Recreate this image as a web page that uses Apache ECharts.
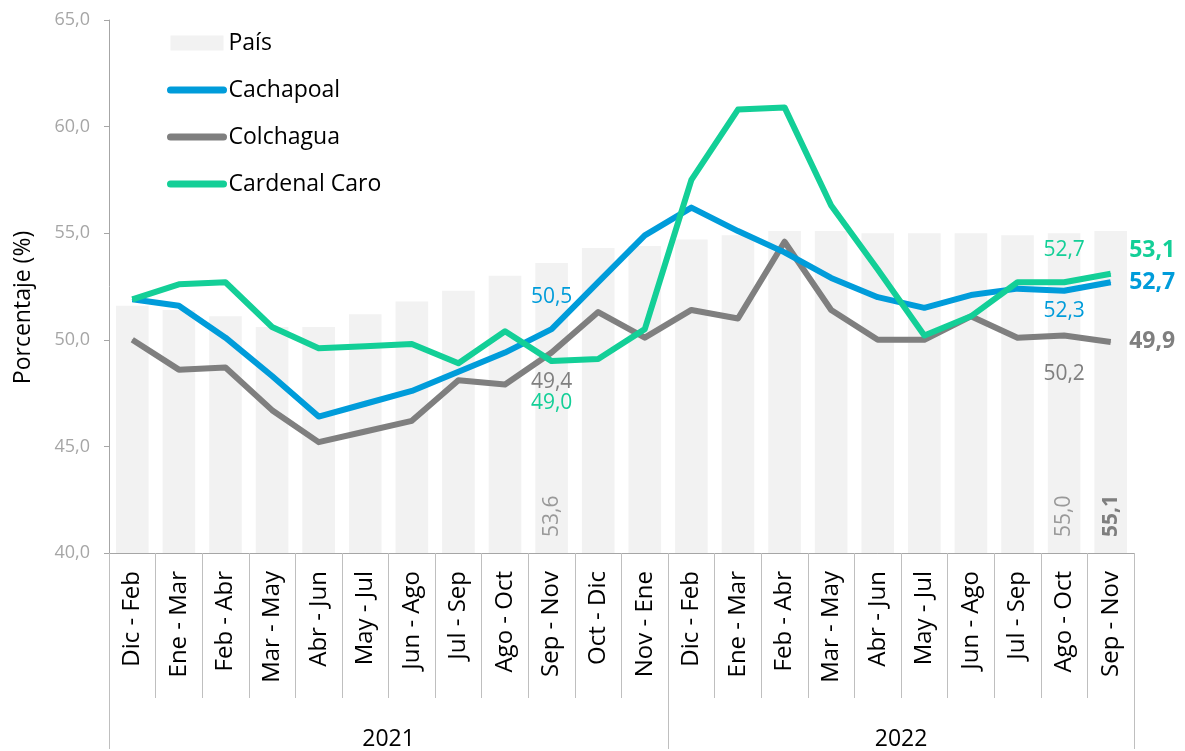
<!DOCTYPE html>
<html>
<head>
<meta charset="utf-8">
<script src="https://cdn.jsdelivr.net/npm/echarts@6/dist/echarts.min.js"></script>
<style>
  html, body { margin: 0; padding: 0; background: #fff; }
  #main { width: 1185px; height: 751px; }
</style>
</head>
<body>
<div id="main"></div>
<script>
var categories = ['Dic - Feb', 'Ene - Mar', 'Feb - Abr', 'Mar - May', 'Abr - Jun', 'May - Jul', 'Jun - Ago', 'Jul - Sep', 'Ago - Oct', 'Sep - Nov', 'Oct - Dic', 'Nov - Ene',
                  'Dic - Feb', 'Ene - Mar', 'Feb - Abr', 'Mar - May', 'Abr - Jun', 'May - Jul', 'Jun - Ago', 'Jul - Sep', 'Ago - Oct', 'Sep - Nov'];
var years = ['2021', '2022'];
var yearSpan = [12, 10];

var pais = [51.6, 51.4, 51.1, 50.6, 50.6, 51.2, 51.8, 52.3, 53.0, 53.6, 54.3, 54.4, 54.7, 54.9, 55.1, 55.1, 55.0, 55.0, 55.0, 54.9, 55.0, 55.1];
var cachapoal = [51.9, 51.6, 50.1, 48.3, 46.4, 47.0, 47.6, 48.5, 49.4, 50.5, 52.7, 54.9, 56.2, 55.1, 54.1, 52.9, 52.0, 51.5, 52.1, 52.4, 52.3, 52.7];
var colchagua = [50.0, 48.6, 48.7, 46.7, 45.2, 45.7, 46.2, 48.1, 47.9, 49.4, 51.3, 50.1, 51.4, 51.0, 54.6, 51.4, 50.0, 50.0, 51.1, 50.1, 50.2, 49.9];
var cardenalCaro = [51.9, 52.6, 52.7, 50.6, 49.6, 49.7, 49.8, 48.9, 50.4, 49.0, 49.1, 50.5, 57.5, 60.8, 60.9, 56.3, 53.3, 50.2, 51.1, 52.7, 52.7, 53.1];

var FONT = 'Open Sans';
var BLUE = '#009CDA', GRAY = '#7F7F7F', GREEN = '#13CF97';

function fmt(v) { return Number(v).toFixed(1).replace('.', ','); }

// put labels only on selected points
function withLabels(values, labels) {
  return values.map(function (v, i) {
    var l = labels[i];
    return l ? { value: v, label: Object.assign({ show: true }, l) } : v;
  });
}

var bold = { fontWeight: 'bold', fontSize: 23 };

// year group boundaries and centres
var yearTicks = [0], yearCenters = [];
yearSpan.forEach(function (n, i) {
  var start = yearTicks[yearTicks.length - 1];
  yearCenters.push(start + n / 2);
  yearTicks.push(start + n);
});

var myChart = echarts.init(document.getElementById('main'));

var lineBase = {
  type: 'line',
  symbol: 'circle',
  symbolSize: 1,
  z: 3,
  label: { show: false, fontFamily: FONT, fontSize: 21, formatter: function (p) { return fmt(p.value); } }
};

function legendLine(name) {
  return { name: name, itemStyle: { opacity: 0 }, lineStyle: { width: 7, cap: 'round' } };
}

var option = {
  animation: false,
  textStyle: { fontFamily: FONT },
  grid: { left: 109, right: 51, top: 20, bottom: 196 },
  legend: {
    orient: 'vertical',
    left: 162,
    top: 26,
    itemWidth: 53,
    itemHeight: 15,
    itemGap: 23,
    textStyle: { fontFamily: FONT, fontSize: 23, color: '#000', lineHeight: 24 },
    data: [
      { name: 'País', icon: 'rect' },
      legendLine('Cachapoal'), legendLine('Colchagua'), legendLine('Cardenal Caro')
    ]
  },
  xAxis: [
    {
      type: 'category',
      data: categories,
      axisLine: { lineStyle: { color: '#A6A6A6', width: 1 } },
      axisTick: { show: true, interval: 0, length: 145, lineStyle: { color: '#BFBFBF' } },
      axisLabel: { interval: 0, rotate: 90, margin: 18, color: '#000', fontFamily: FONT, fontSize: 24 }
    },
    {
      type: 'value',
      min: 0,
      max: yearTicks[yearTicks.length - 1],
      position: 'bottom',
      offset: 145,
      axisLine: { show: false },
      splitLine: { show: false },
      axisTick: { show: true, length: 51, customValues: yearTicks, lineStyle: { color: '#BFBFBF' } },
      axisLabel: {
        customValues: yearCenters,
        margin: 30,
        color: '#000',
        fontFamily: FONT,
        fontSize: 23,
        formatter: function (v) { return years[yearCenters.indexOf(v)] || ''; }
      }
    }
  ],
  yAxis: {
    type: 'value',
    min: 40,
    max: 65,
    interval: 5,
    name: 'Porcentaje (%)',
    nameLocation: 'middle',
    nameRotate: 90,
    nameGap: 74,
    nameTextStyle: { color: '#000', fontFamily: FONT, fontSize: 23, padding: [0, 42, 0, 0] },
    axisLine: { show: true, lineStyle: { color: '#A6A6A6' } },
    axisTick: { show: true, length: 5, lineStyle: { color: '#A6A6A6' } },
    splitLine: { show: false },
    axisLabel: { color: '#A6A6A6', fontFamily: FONT, fontSize: 18, margin: 19, formatter: fmt }
  },
  series: [
    {
      name: 'País',
      type: 'bar',
      barCategoryGap: '30%',
      itemStyle: { color: '#F2F2F2' },
      z: 1,
      label: {
        show: false, position: 'insideBottom', rotate: 90, align: 'left', verticalAlign: 'middle',
        distance: 16, fontFamily: FONT, fontSize: 21, color: '#999999',
        formatter: function (p) { return fmt(p.value); }
      },
      data: withLabels(pais, {
        9: {},
        20: {},
        21: { fontWeight: 'bold', color: '#7F7F7F' }
      })
    },
    Object.assign({}, lineBase, {
      name: 'Cachapoal',
      color: BLUE,
      lineStyle: { color: BLUE, width: 6, join: 'round' },
      itemStyle: { color: BLUE },
      z: 4,
      label: Object.assign({}, lineBase.label, { color: BLUE }),
      data: withLabels(cachapoal, {
        9: { position: 'top', distance: 21 },
        20: { position: 'bottom', distance: 9 },
        21: Object.assign({ position: 'right', distance: 18 }, bold)
      })
    }),
    Object.assign({}, lineBase, {
      name: 'Colchagua',
      color: GRAY,
      lineStyle: { color: GRAY, width: 6, join: 'round' },
      itemStyle: { color: GRAY },
      z: 3,
      label: Object.assign({}, lineBase.label, { color: GRAY }),
      data: withLabels(colchagua, {
        9: { position: 'bottom', distance: 18 },
        20: { position: 'bottom', distance: 27 },
        21: Object.assign({ position: 'right', distance: 18 }, bold)
      })
    }),
    Object.assign({}, lineBase, {
      name: 'Cardenal Caro',
      color: GREEN,
      lineStyle: { color: GREEN, width: 6, join: 'round' },
      itemStyle: { color: GREEN },
      z: 5,
      label: Object.assign({}, lineBase.label, { color: GREEN }),
      data: withLabels(cardenalCaro, {
        9: { position: 'bottom', distance: 31 },
        20: { position: 'top', distance: 21 },
        21: Object.assign({ position: 'right', distance: 18, offset: [0, -23] }, bold)
      })
    })
  ]
};

myChart.setOption(option);
</script>
</body>
</html>
